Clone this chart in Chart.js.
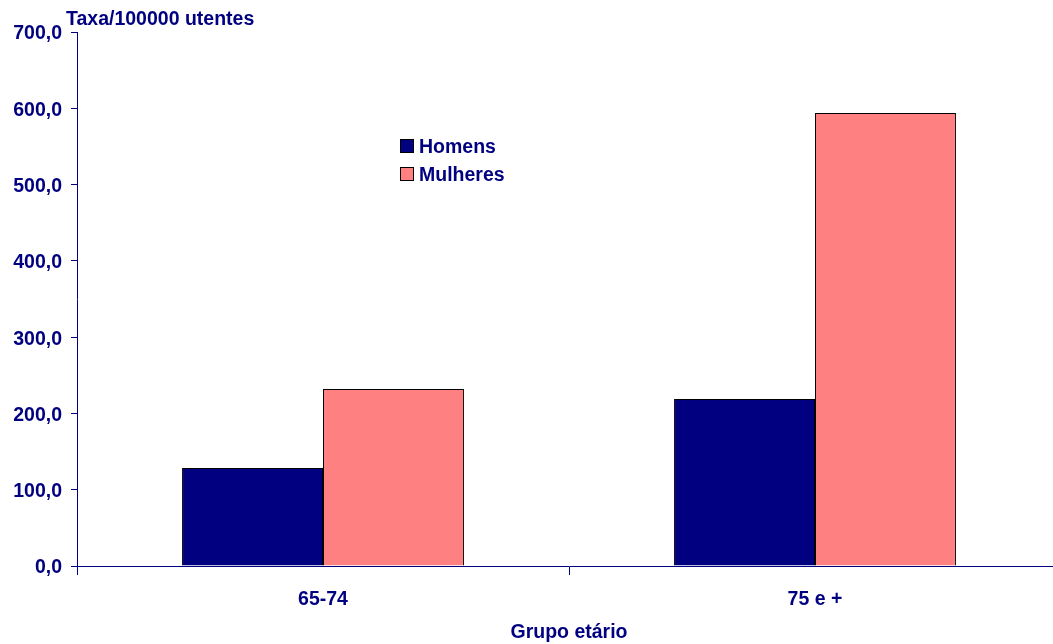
<!DOCTYPE html>
<html>
<head>
<meta charset="utf-8">
<script src="https://cdn.jsdelivr.net/npm/chart.js@4/dist/chart.umd.min.js"></script>
<style>
  body { margin: 0; overflow: hidden; background: #fff; }
</style>
</head>
<body>
<canvas id="chart" width="1061" height="644"></canvas>
<script>
const categories = ['65-74', '75 e +'];
const homens = [128.4, 218.9];
const mulheres = [232.0, 593.7];
const yTicks = [0, 100, 200, 300, 400, 500, 600, 700];

const navy = '#000080';
const font = 'Liberation Sans, Arial, sans-serif';

// axis title and legend drawn inside the plot
const extras = {
    id: 'extras',
    afterDraw(chart) {
        const ctx = chart.ctx;
        const area = chart.chartArea;
        ctx.save();
        ctx.fillStyle = navy;
        ctx.font = 'bold 19.5px ' + font;
        ctx.textBaseline = 'middle';
        ctx.textAlign = 'left';
        ctx.fillText('Taxa/100000 utentes', area.left - 11, 19.5);

        chart.data.datasets.forEach((ds, i) => {
            const y = 146 + i * 28;
            ctx.fillStyle = ds.backgroundColor;
            ctx.fillRect(401, y - 6, 12, 12);
            ctx.strokeStyle = '#000';
            ctx.lineWidth = 1;
            ctx.strokeRect(400.5, y - 6.5, 13, 13);
            ctx.fillStyle = navy;
            ctx.font = 'bold 19.5px ' + font;
            ctx.fillText(ds.label, 419, y + 1.5);
        });
        ctx.restore();
    }
};

new Chart(document.getElementById('chart'), {
    type: 'bar',
    data: {
        labels: categories,
        datasets: [{
            label: 'Homens',
            data: homens,
            backgroundColor: '#000080',
            borderColor: '#000000',
            borderWidth: 1,
            borderSkipped: 'bottom'
        }, {
            label: 'Mulheres',
            data: mulheres,
            backgroundColor: '#FF8080',
            borderColor: '#000000',
            borderWidth: 1,
            borderSkipped: 'bottom'
        }]
    },
    options: {
        responsive: false,
        animation: false,
        devicePixelRatio: 1,
        layout: { padding: { top: 32, right: 0, bottom: 0, left: 0 } },
        datasets: {
            bar: { categoryPercentage: 0.573, barPercentage: 1 }
        },
        plugins: {
            legend: { display: false },
            tooltip: { enabled: false }
        },
        scales: {
            x: {
                grid: {
                    display: true,
                    drawOnChartArea: false,
                    drawTicks: true,
                    tickLength: 9,
                    color: navy,
                    offset: true
                },
                border: { color: navy, width: 1 },
                ticks: {
                    color: navy,
                    padding: 13,
                    font: { family: font, size: 19.5, weight: 'bold' }
                },
                title: {
                    display: true,
                    text: 'Grupo etário',
                    color: navy,
                    padding: { top: 0, bottom: 0 },
                    font: { family: font, size: 19.5, weight: 'bold' }
                },
                afterFit(scale) { scale.height = 78; }
            },
            y: {
                min: 0,
                max: 700,
                grid: {
                    display: true,
                    drawOnChartArea: false,
                    drawTicks: true,
                    tickLength: 6,
                    color: navy
                },
                border: { color: navy, width: 1 },
                afterBuildTicks(scale) {
                    scale.ticks = yTicks.map(v => ({ value: v }));
                },
                ticks: {
                    color: navy,
                    padding: 9,
                    labelOffset: 2,
                    font: { family: font, size: 19.5, weight: 'bold' },
                    callback: v => v.toFixed(1).replace('.', ',')
                },
                afterFit(scale) { scale.width = 77; }
            }
        }
    },
    plugins: [extras]
});
</script>
</body>
</html>
